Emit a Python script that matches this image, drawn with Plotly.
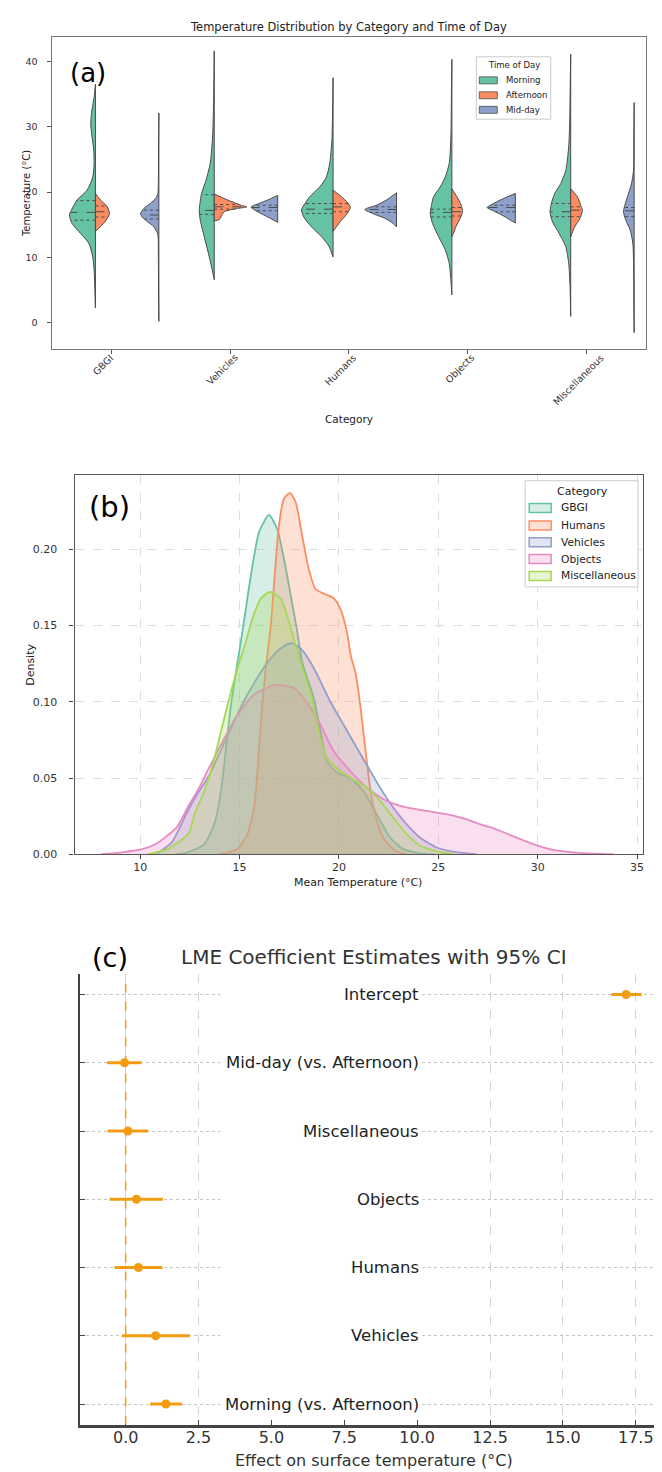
import numpy as np
import plotly.graph_objects as go

W_PX, H_PX = 662, 1472
FONT = "DejaVu Sans"


def fx(px):
    return px / W_PX


def fy(py):
    return 1 - py / H_PX


# ---------------- Panel (a) data: split violins ----------------
categories = ["GBGI", "Vehicles", "Humans", "Objects", "Miscellaneous"]
times = ["Morning", "Afternoon", "Mid-day"]

morning_temp = [
    [2.3, 5.6, 8.1, 10.1, 12.2, 13.7, 15.2, 16.5, 17.25, 18.8, 20.3, 22.3, 24.4, 26.4, 28.4, 30.4, 32.0, 34.5, 36.5],
    [6.6, 8.1, 10.1, 12.2, 14.2, 15.7, 17.3, 18.3, 19.8, 21.8, 24.4, 28.4, 33.5, 41.6],
    [10.1, 11.7, 13.2, 14.7, 16.2, 17.3, 17.8, 19.3, 20.8, 22.3, 24.4, 26.9, 28.4, 32.0, 37.5],
    [4.3, 6.6, 9.1, 11.2, 13.2, 15.2, 16.7, 17.8, 19.3, 20.8, 22.3, 24.4, 28.4, 34.0, 40.3],
    [1.0, 5.6, 9.1, 11.7, 13.7, 15.5, 17.0, 18.3, 19.8, 21.3, 23.3, 26.9, 30.9, 36.0, 41.1],
]
morning_dens = [
    [0, 2, 4, 8, 20, 45, 70, 78, 72, 55, 25, 8, 4, 5, 10, 14, 12, 4, 0],
    [0, 6, 15, 25, 35, 42, 45, 43, 38, 25, 12, 5, 2, 0],
    [0, 12, 35, 65, 88, 95, 90, 70, 40, 20, 10, 5, 3, 1.5, 0],
    [0, 3, 8, 20, 40, 58, 65, 62, 55, 35, 20, 8, 3, 1.5, 0],
    [0, 2, 6, 15, 35, 55, 62, 58, 48, 30, 15, 6, 3, 1.5, 0],
]
afternoon_temp = [
    [14.0, 14.7, 15.7, 16.7, 17.8, 18.8, 19.8],
    [15.6, 15.8, 16.2, 17.0, 17.5, 17.75, 18.0, 18.3, 18.8, 19.7],
    [14.0, 14.7, 15.7, 16.7, 17.7, 18.3, 19.3, 20.3],
    [13.2, 13.7, 14.7, 16.0, 17.0, 18.0, 19.3, 20.5],
    [13.2, 13.7, 14.7, 16.0, 17.25, 18.0, 19.3, 20.5],
]
afternoon_dens = [
    [0, 15, 32, 42, 35, 15, 0],
    [0, 15, 20, 30, 70, 98, 80, 65, 40, 0],
    [0, 10, 25, 42, 52, 45, 25, 0],
    [0, 5, 12, 25, 32, 28, 15, 0],
    [0, 4, 12, 28, 35, 30, 20, 0],
]
midday_temp = [
    [0.25, 5.0, 10.0, 13.0, 13.7, 14.7, 15.5, 16.2, 16.7, 17.5, 18.3, 19.0, 19.8, 22.0, 26.0, 32.1],
    [15.4, 15.6, 16.2, 17.0, 17.7, 18.3, 18.8, 19.5],
    [14.7, 15.2, 16.0, 16.7, 17.35, 18.0, 18.8, 19.9],
    [15.3, 15.5, 16.2, 17.0, 17.65, 18.0, 18.8, 19.8],
    [-1.5, 3.0, 8.1, 12.2, 14.2, 15.7, 17.0, 18.0, 19.3, 21.3, 23.3, 28.0, 33.7],
]
midday_dens = [
    [0, 1, 1.5, 2, 4, 15, 35, 50, 55, 45, 25, 10, 3, 1.5, 1, 0],
    [0, 8, 30, 60, 80, 55, 30, 0],
    [0, 10, 35, 70, 95, 60, 30, 0],
    [0, 8, 30, 60, 85, 75, 45, 0],
    [0, 1, 1.5, 4, 12, 25, 32, 28, 20, 8, 2, 1, 0],
]
# quartiles (Q1, median, Q3)
morning_q = [(15.7, 16.9, 18.7), (16.6, 17.2, 19.6), (16.75, 17.4, 18.25), (16.2, 16.9, 17.4), (16.25, 17.0, 18.25)]
afternoon_q = [(16.2, 17.0, 17.9), (17.4, 17.75, 18.1), (17.0, 17.75, 18.25), (16.35, 17.0, 17.65), (16.25, 17.25, 17.75)]
midday_q = [(15.9, 16.5, 17.25), (17.15, 17.65, 18.0), (16.9, 17.35, 17.75), (17.0, 17.65, 18.0), (16.25, 17.15, 17.65)]

# ---------------- Panel (b) data: KDE curves ----------------
kde_categories = ["GBGI", "Humans", "Vehicles", "Objects", "Miscellaneous"]
gbgi_t = [11.8, 12.4, 13.23, 13.73, 14.07, 14.32, 14.57, 14.85, 15.07, 15.27, 15.57, 15.98, 16.48, 16.9, 17.23,
          17.57, 17.9, 18.15, 18.73, 19.07, 19.4, 19.9, 20.57, 21.23, 21.9, 22.57, 23.23, 24.07, 24.8]
gbgi_d = [0, 0.0013, 0.0067, 0.0198, 0.0415, 0.07, 0.098, 0.122, 0.14, 0.157, 0.183, 0.2113, 0.2226, 0.213, 0.194,
          0.170, 0.146, 0.126, 0.1024, 0.0807, 0.061, 0.0535, 0.050, 0.0415, 0.0263, 0.011, 0.0035, 0.0006, 0]
humans_t = [14.0, 14.23, 14.9, 15.4, 15.73, 15.93, 16.1, 16.3, 16.57, 16.77, 16.98, 17.23, 17.53, 17.82, 18.15,
            18.48, 18.82, 19.23, 19.73, 20.07, 20.4, 20.6, 20.85, 21.07, 21.32, 21.57, 21.82, 22.23, 22.82, 23.4]
humans_d = [0, 0.0006, 0.0035, 0.0133, 0.0307, 0.059, 0.0916, 0.12, 0.150, 0.183, 0.2156, 0.233, 0.237, 0.231,
            0.209, 0.187, 0.174, 0.171, 0.168, 0.161, 0.146, 0.13, 0.118, 0.098, 0.0698, 0.0437, 0.0263, 0.011,
            0.0024, 0]
vehicles_t = [10.8, 11.6, 12.4, 12.9, 13.48, 14.3, 15.2, 16.1, 16.6, 17.07, 17.6, 18.07, 18.57, 18.9, 19.57,
              20.23, 20.9, 21.48, 22.07, 22.73, 23.4, 24.07, 24.9, 25.73, 26.9]
vehicles_d = [0, 0.008, 0.0285, 0.04, 0.052, 0.075, 0.1, 0.12, 0.129, 0.135, 0.1384, 0.135, 0.126, 0.118, 0.1,
              0.085, 0.0698, 0.0567, 0.0437, 0.0307, 0.0198, 0.011, 0.0046, 0.0017, 0]
objects_t = [8.04, 9.1, 10.15, 10.78, 11.84, 12.4, 12.9, 13.4, 14.07, 14.9, 15.73, 16.77, 17.73, 18.57, 19.07,
             19.73, 20.57, 21.4, 22.4, 23.4, 24.4, 25.4, 26.4, 27.07, 27.66, 28.7, 29.77, 30.8, 32.1, 33.8]
objects_d = [0, 0.0013, 0.0035, 0.0067, 0.0176, 0.031, 0.042, 0.055, 0.072, 0.0916, 0.1046, 0.111, 0.109, 0.096,
             0.085, 0.0677, 0.0546, 0.0437, 0.035, 0.0307, 0.0285, 0.0263, 0.023, 0.0198, 0.0176, 0.0122, 0.0067,
             0.0028, 0.0009, 0]
misc_t = [10.36, 11.41, 12.45, 12.73, 13.23, 13.65, 14.07, 14.48, 14.9, 15.32, 15.65, 16.07, 16.53, 17.07, 17.48,
          17.82, 18.15, 18.65, 18.98, 19.4, 20.07, 20.73, 21.4, 22.07, 22.73, 23.4, 24.07, 24.9, 25.73]
misc_d = [0, 0.0035, 0.014, 0.0263, 0.0415, 0.059, 0.0807, 0.1024, 0.122, 0.1395, 0.1547, 0.1677, 0.172, 0.1677,
          0.1525, 0.137, 0.123, 0.1024, 0.0807, 0.0633, 0.0546, 0.049, 0.0437, 0.035, 0.024, 0.0133, 0.0057,
          0.002, 0]
kde_t = [gbgi_t, humans_t, vehicles_t, objects_t, misc_t]
kde_d = [gbgi_d, humans_d, vehicles_d, objects_d, misc_d]

# ---------------- Panel (c) data: LME coefficients ----------------
terms = ["Morning (vs. Afternoon)", "Vehicles", "Humans", "Objects", "Miscellaneous",
         "Mid-day (vs. Afternoon)", "Intercept"]
estimates = [1.38, 1.03, 0.44, 0.37, 0.08, -0.04, 17.17]
ci_low = [0.84, -0.13, -0.38, -0.55, -0.62, -0.64, 16.66]
ci_high = [1.93, 2.20, 1.26, 1.28, 0.77, 0.54, 17.70]

# ---------------- styles ----------------
TIME_COLORS = {"Morning": "#66c2a5", "Afternoon": "#fc8d62", "Mid-day": "#8da0cb"}
KDE_COLORS = {"GBGI": "#66c2a5", "Humans": "#fc8d62", "Vehicles": "#8da0cb",
              "Objects": "#e78ac3", "Miscellaneous": "#a6d854"}
EDGE = "#4a4a4a"
ORANGE = "#f39c12"
WIDTH_SCALE = 1 / 357.0  # density units -> category units
SPLIT_OFFSET = -0.134
MIDDAY_OFFSET = 0.40


def rgba(hex_color, a):
    h = hex_color.lstrip("#")
    r, g, b = int(h[0:2], 16), int(h[2:4], 16), int(h[4:6], 16)
    return f"rgba({r},{g},{b},{a})"


fig = go.Figure()


def half_violin(center, temps, dens, side, color, quarts):
    t = np.array(temps, dtype=float)
    w = np.array(dens, dtype=float) * WIDTH_SCALE
    fig.add_trace(go.Scatter(x=[center] * len(t), y=t, mode="lines",
                             line=dict(color=EDGE, width=1), hoverinfo="skip",
                             showlegend=False, xaxis="x", yaxis="y"))
    fig.add_trace(go.Scatter(x=center + side * w, y=t, mode="lines",
                             line=dict(color=EDGE, width=1, shape="spline", smoothing=0.7),
                             fill="tonextx", fillcolor=color, hoverinfo="skip",
                             showlegend=False, xaxis="x", yaxis="y"))
    for k, q in enumerate(quarts):
        wq = float(np.interp(q, t, w))
        fig.add_trace(go.Scatter(x=[center, center + side * wq], y=[q, q], mode="lines",
                                 line=dict(color=EDGE, width=1, dash="dash" if k == 1 else "dot"),
                                 hoverinfo="skip", showlegend=False, xaxis="x", yaxis="y"))


for i, cat in enumerate(categories):
    c_split = i + SPLIT_OFFSET
    half_violin(c_split, morning_temp[i], morning_dens[i], -1, TIME_COLORS["Morning"], morning_q[i])
    half_violin(c_split, afternoon_temp[i], afternoon_dens[i], 1, TIME_COLORS["Afternoon"], afternoon_q[i])
    half_violin(i + MIDDAY_OFFSET, midday_temp[i], midday_dens[i], -1, TIME_COLORS["Mid-day"], midday_q[i])

# Panel (b)
for name, t, d in zip(kde_categories, kde_t, kde_d):
    col = KDE_COLORS[name]
    fig.add_trace(go.Scatter(x=t, y=d, mode="lines",
                             line=dict(color=col, width=1.8, shape="spline", smoothing=0.6),
                             fill="tozeroy", fillcolor=rgba(col, 0.27), name=name,
                             showlegend=False, xaxis="x2", yaxis="y2"))

# Panel (c)
rows = list(range(len(terms)))
est = np.array(estimates)
fig.add_trace(go.Scatter(x=est, y=rows, mode="markers",
                         marker=dict(size=9, color=ORANGE),
                         error_x=dict(type="data", symmetric=False,
                                      array=list(np.array(ci_high) - est),
                                      arrayminus=list(est - np.array(ci_low)),
                                      thickness=3, width=0, color=ORANGE),
                         showlegend=False, xaxis="x3", yaxis="y3"))

shapes = []
annotations = []

# white band in panel (c) behind the term labels (hides grid there)
shapes.append(dict(type="rect", xref="x3", yref="y3", x0=3.25, x1=10.17, y0=-0.28, y1=6.3,
                   fillcolor="white", line=dict(width=0), layer="between"))
# zero reference line
shapes.append(dict(type="line", xref="x3", yref="y3", x0=0, x1=0, y0=-0.3, y1=6.3,
                   line=dict(color=ORANGE, width=1.5, dash="dash"), layer="above"))

for i, term in enumerate(terms):
    annotations.append(dict(xref="paper", yref="y3", x=fx(414), y=rows[i], text=term,
                            xanchor="right", yanchor="middle", showarrow=False,
                            font=dict(family=FONT, size=16.5, color="#222")))

# category labels for panel (a), rotated and centred on ticks
for i, cat in enumerate(categories):
    annotations.append(dict(xref="x", yref="paper", x=i, y=fy(352), text=cat, textangle=-45,
                            xanchor="center", yanchor="top", showarrow=False, xshift=-8, yshift=9,
                            font=dict(family=FONT, size=9.5, color="#333")))

# legend (a)
shapes.append(dict(type="rect", xref="paper", yref="paper", x0=fx(469), x1=fx(543.5), y0=fy(111.7), y1=fy(49),
                   fillcolor="white", line=dict(color="#cccccc", width=1), layer="above"))
annotations.append(dict(xref="paper", yref="paper", x=fx(506.5), y=fy(57.3), text="Time of Day",
                        xanchor="center", yanchor="middle", showarrow=False,
                        font=dict(family=FONT, size=8.5, color="#222")))
for k, (tname, ypx) in enumerate(zip(times, [72.7, 87.7, 102.3])):
    shapes.append(dict(type="rect", xref="paper", yref="paper", x0=fx(472), x1=fx(490), y0=fy(ypx + 3.5),
                       y1=fy(ypx - 3.5), fillcolor=TIME_COLORS[tname], line=dict(color=EDGE, width=0.8),
                       layer="above"))
    annotations.append(dict(xref="paper", yref="paper", x=fx(497), y=fy(ypx), text=tname,
                            xanchor="left", yanchor="middle", showarrow=False,
                            font=dict(family=FONT, size=8.5, color="#222")))

# legend (b)
shapes.append(dict(type="rect", xref="paper", yref="paper", x0=fx(518), x1=fx(631), y0=fy(581.7), y1=fy(475),
                   fillcolor="white", line=dict(color="#cccccc", width=1), layer="above"))
annotations.append(dict(xref="paper", yref="paper", x=fx(575), y=fy(486), text="Category",
                        xanchor="center", yanchor="middle", showarrow=False,
                        font=dict(family=FONT, size=11, color="#222")))
for name, ypx in zip(kde_categories, [502.3, 520, 536.7, 553.7, 570.7]):
    col = KDE_COLORS[name]
    shapes.append(dict(type="rect", xref="paper", yref="paper", x0=fx(522), x1=fx(544), y0=fy(ypx + 4.5),
                       y1=fy(ypx - 4.5), fillcolor=rgba(col, 0.27), line=dict(color=col, width=1.5),
                       layer="above"))
    annotations.append(dict(xref="paper", yref="paper", x=fx(552), y=fy(ypx), text=name,
                            xanchor="left", yanchor="middle", showarrow=False,
                            font=dict(family=FONT, size=10.7, color="#222")))


# titles, panel letters, axis titles
def text_ann(x, y, text, size, angle=0, color="#222", xanchor="center"):
    annotations.append(dict(xref="paper", yref="paper", x=fx(x), y=fy(y), text=text, textangle=angle,
                            xanchor=xanchor, yanchor="middle", showarrow=False,
                            font=dict(family=FONT, size=size, color=color)))


text_ann(341.5, 19.3, "Temperature Distribution by Category and Time of Day", 11.5)
text_ann(79.7, 65, "(a)", 26, color="#000")
text_ann(18, 186, "Temperature (°C)", 10, angle=-90)
text_ann(341.5, 413, "Category", 10.5)

text_ann(102, 501, "(b)", 29, color="#000")
text_ann(23, 660, "Density", 11, angle=-90)
text_ann(351, 879, "Mean Temperature (°C)", 11)

text_ann(102, 954.5, "(c)", 27, color="#000")
text_ann(366.5, 953.3, "LME Coefficient Estimates with 95% CI", 20, color="#333")
text_ann(367, 1459, "Effect on surface temperature (°C)", 16, color="#333")

fig.update_layout(
    width=W_PX, height=H_PX,
    margin=dict(l=0, r=0, t=0, b=0),
    paper_bgcolor="white", plot_bgcolor="white",
    showlegend=False,
    font=dict(family=FONT, color="#333"),
    shapes=shapes, annotations=annotations,
    xaxis=dict(domain=[fx(44), fx(639)], range=[-0.5, 4.5], anchor="y",
               tickvals=list(range(len(categories))), showticklabels=False,
               ticks="outside", ticklen=3.5, tickcolor="#555",
               showline=True, linecolor="#777", linewidth=1, mirror=True,
               showgrid=False, zeroline=False),
    yaxis=dict(domain=[fy(342.7), fy(29.3)], range=[-4, 43.7], anchor="x",
               tickvals=[0, 10, 20, 30, 40], ticks="outside", ticklen=3.5, tickcolor="#555",
               tickfont=dict(size=9.5, color="#333"), ticklabelstandoff=8,
               showline=True, linecolor="#777", linewidth=1, mirror=True,
               showgrid=False, zeroline=False),
    xaxis2=dict(domain=[fx(66.7), fx(636)], range=[6.7, 35.3], anchor="y2",
                tickvals=[10, 15, 20, 25, 30, 35], ticks="outside", ticklen=4, tickcolor="#444",
                tickfont=dict(size=11, color="#333"), ticklabelstandoff=-2,
                showline=True, linecolor="#555", linewidth=1.3, mirror=True,
                showgrid=True, gridcolor="#dddddd", griddash="dash", gridwidth=1, zeroline=False),
    yaxis2=dict(domain=[fy(850.3), fy(469.3)], range=[0, 0.2487], anchor="x2",
                tickvals=[0, 0.05, 0.10, 0.15, 0.20], tickformat=".2f",
                ticks="outside", ticklen=4, tickcolor="#444",
                tickfont=dict(size=11, color="#333"), ticklabelstandoff=10,
                showline=True, linecolor="#555", linewidth=1.3, mirror=True,
                showgrid=True, gridcolor="#dddddd", griddash="dash", gridwidth=1, zeroline=False),
    xaxis3=dict(domain=[fx(72.6), 1.0], range=[-1.55, 18.64], anchor="y3",
                tickvals=[0, 2.5, 5, 7.5, 10, 12.5, 15, 17.5], tickformat=".1f",
                ticks="inside", ticklen=5, tickcolor="#444",
                tickfont=dict(size=16, color="#333"), ticklabelstandoff=-3,
                showline=True, linecolor="#444", linewidth=2.5, mirror=False,
                showgrid=True, gridcolor="#d4d4d4", griddash="dash", gridwidth=1, zeroline=False),
    yaxis3=dict(domain=[fy(1423.3), fy(970.7)], range=[-0.3, 6.3], anchor="x3",
                tickvals=rows, showticklabels=False, ticks="inside", ticklen=5, tickcolor="#444",
                showline=True, linecolor="#444", linewidth=2, mirror=False,
                showgrid=True, gridcolor="#c4c4c4", griddash="dot", gridwidth=1, zeroline=False),
)

fig.write_html("out.html")
